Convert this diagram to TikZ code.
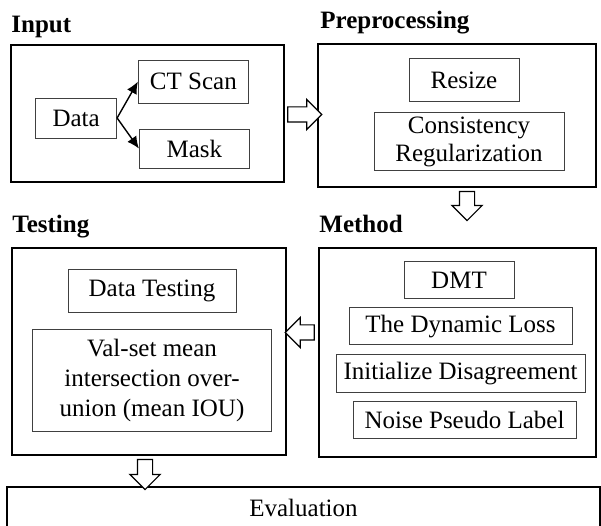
\documentclass[tikz,border=0pt]{standalone}
\usepackage{fontspec}
\setmainfont{Liberation Serif}
\usetikzlibrary{positioning,arrows.meta,shapes.arrows,calc}

\begin{document}
\begin{tikzpicture}[
    x=1pt, y=1pt,
    node distance=8pt,
    every node/.style={font=\fontsize{25}{28}\selectfont},
    stage/.style={rectangle, draw, line width=1.6pt, inner sep=0pt},
    heading/.style={anchor=base west, inner sep=0pt, font=\fontsize{25}{28}\selectfont\bfseries},
    box/.style={rectangle, draw=black!75, line width=0.9pt, align=center, inner sep=3pt},
    arrow/.style={-{Latex[length=12pt, width=11pt]}, line width=1.4pt},
    hollow/.style={single arrow, draw, fill=white, line width=1.2pt, inner xsep=0pt, inner ysep=7pt, single arrow head extend=7.5pt},
    hollowdown/.style={hollow, shape border rotate=270, inner xsep=7pt, inner ysep=0pt}
]
\useasboundingbox (0,0) rectangle (601,526);
\clip (0,0) rectangle (601,526);

% Stage frames
\node[stage, minimum width=273pt, minimum height=137pt] (input) at (147.5,412.5) {};
\node[stage, minimum width=278pt, minimum height=143pt] (pre) at (457,410.5) {};
\node[stage, minimum width=274pt, minimum height=207pt] (test) at (149,174.5) {};
\node[stage, minimum width=277pt, minimum height=209pt] (method) at (457.5,173.5) {};
\node[stage, minimum width=593pt, minimum height=42pt] (eval) at (303.5,18) {Evaluation};

% Stage headings
\node[heading] (inputhead) at ($(input.north west)+(1,12)$) {Input};
\node[heading] (prehead) at ($(pre.north west)+(3,15)$) {Preprocessing};
\node[heading] (testhead) at ($(test.north west)+(1,15)$) {Testing};
\node[heading] (methodhead) at ($(method.north west)+(1,15)$) {Method};

% Input
\node[box, minimum width=81pt, minimum height=40pt, right=25pt of input.west, yshift=-4.5pt] (data) {Data};
\node[box, minimum width=110pt, minimum height=43pt, below left=15.5pt and 36pt of input.north east] (ct) {CT Scan};
\node[box, minimum width=110pt, minimum height=39pt, below=25pt of ct, xshift=1pt] (mask) {Mask};

% Preprocessing
\node[box, minimum width=110pt, minimum height=43pt, below=15pt of pre.north, xshift=7pt] (resize) {Resize};
\node[box, minimum width=190pt, minimum height=58pt, below=10pt of resize, xshift=5pt] (consist) {Consistency\\Regularization};

% Method
\node[box, minimum width=110pt, minimum height=37pt, below=14pt of method.north, xshift=1.5pt] (dmt) {DMT};
\node[box, minimum width=223pt, minimum height=37pt, below=8pt of dmt, xshift=1.5pt] (dyn) {The Dynamic Loss};
\node[box, minimum width=249pt, minimum height=38pt, below=9pt of dyn] (init) {Initialize Disagreement};
\node[box, minimum width=223pt, minimum height=37pt, below=8pt of init, xshift=4pt] (noise) {Noise Pseudo Label};

% Testing
\node[box, minimum width=168pt, minimum height=43pt, below=22pt of test.north, xshift=3pt] (dtest) {Data Testing};
\node[box, minimum width=239pt, minimum height=102pt, below=16pt of dtest, font=\fontsize{25}{30}\selectfont] (valset) {Val-set mean\\intersection over-\\union (mean IOU)};

% Arrows - data split
\draw[arrow] (data.east) -- (ct.west);
\draw[arrow] (data.east) -- (mask.west);

% Block arrows between stages
\node[hollow, minimum height=34pt] (a1) at ($(input.east)!0.5!(pre.west)$) {};
\node[hollowdown, minimum height=29pt] (a2) at ($(pre.south)+(10,-14.5)$) {};
\node[hollow, minimum height=29pt, shape border rotate=180] (a3) at ($(method.west)!0.5!(test.east)+(1,19.5)$) {};
\node[hollowdown, minimum height=30pt] (a4) at ($(test.south)+(-4,-15)$) {};

\end{tikzpicture}
\end{document}
